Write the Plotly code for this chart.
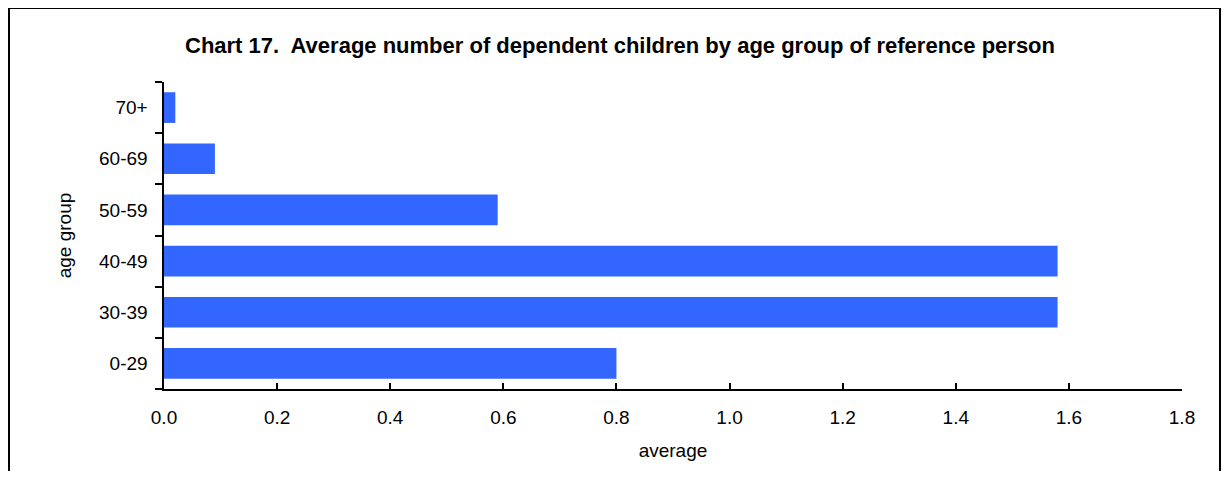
import plotly.graph_objects as go

categories = ["0-29", "30-39", "40-49", "50-59", "60-69", "70+"]
values = [0.80, 1.58, 1.58, 0.59, 0.09, 0.02]
x_ticks = [0.0, 0.2, 0.4, 0.6, 0.8, 1.0, 1.2, 1.4, 1.6, 1.8]

# figure coordinates (page has an 8px body margin)
W, H = 1213, 463
L, R, T, B = 156, 1174, 74, 381

fig = go.Figure(go.Bar(
    x=values, y=categories, orientation="h",
    marker=dict(color="#3366FF", line=dict(width=0)),
    width=0.6,
))

def px2paperx(p):
    return (p - L) / (R - L)

def px2papery(p):
    return (B - p) / (B - T)

fig.update_layout(
    width=W, height=H,
    margin=dict(l=L, r=W - R, t=T, b=H - B, pad=0),
    paper_bgcolor="white", plot_bgcolor="white",
    showlegend=False,
    font=dict(family="Liberation Sans, Arial, sans-serif", color="black", size=19),
    title=dict(
        text="<b>Chart 17.  Average number of dependent children by age group of reference person</b>",
        x=612 / W, xanchor="center", y=1 - 37 / H, yanchor="middle",
        font=dict(size=22, color="black"),
    ),
    xaxis=dict(
        range=[0, 1.8], tickvals=x_ticks, ticktext=[f"{v:.1f}" for v in x_ticks],
        showgrid=False, zeroline=False, showline=True, linecolor="black", linewidth=2,
        ticks="inside", ticklen=6, tickwidth=2, tickcolor="black",
        ticklabelstandoff=10,
        title=dict(text="average", standoff=17, font=dict(size=19)),
        tickfont=dict(size=19),
    ),
    yaxis=dict(
        categoryorder="array", categoryarray=categories,
        range=[-0.5, 5.5],
        showgrid=False, zeroline=False, showline=True, linecolor="black", linewidth=2,
        ticks="outside", ticklen=7, tickwidth=2, tickcolor="black",
        tickson="boundaries",
        title=dict(text="age group", standoff=22, font=dict(size=19)),
        tickfont=dict(size=19),
        ticksuffix="  ",
    ),
    shapes=[dict(
        type="rect", xref="paper", yref="paper",
        x0=px2paperx(1), x1=px2paperx(1212),
        y0=px2papery(520), y1=px2papery(0),
        line=dict(color="black", width=2), fillcolor="rgba(0,0,0,0)",
        layer="below",
    )],
)

fig.write_html("out.html")
